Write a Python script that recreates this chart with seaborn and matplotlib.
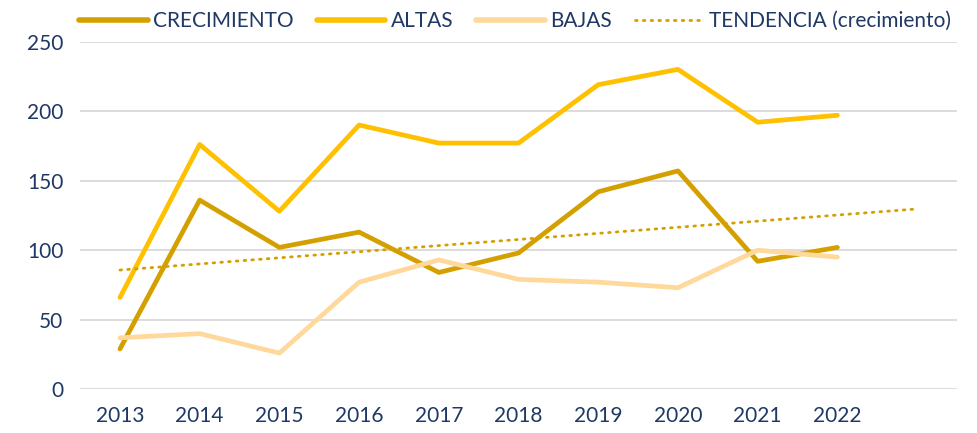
import numpy as np
import pandas as pd
import matplotlib
matplotlib.use("Agg")
import matplotlib.pyplot as plt
import seaborn as sns
from matplotlib.lines import Line2D

years = [2013, 2014, 2015, 2016, 2017, 2018, 2019, 2020, 2021, 2022]
crecimiento = [29, 136, 102, 113, 84, 98, 142, 157, 92, 102]
altas = [66, 176, 128, 190, 177, 177, 219, 230, 192, 197]
bajas = [37, 40, 26, 77, 93, 79, 77, 73, 100, 95]
tick_labels = ["2013", "2014", "2015", "2016", "2017", "2018", "2019", "2020", "2021", "2022", ""]
series_names = ["CRECIMIENTO", "ALTAS", "BAJAS"]
trend_name = "TENDENCIA (crecimiento)"
forecast_periods = 1

sns.set_theme(style="white")
plt.rcParams["font.family"] = ["Lato", "DejaVu Sans"]

text_color = "#1F3864"
colors = {"CRECIMIENTO": "#D4A000", "ALTAS": "#FFC000", "BAJAS": "#FFD89B"}

df = pd.DataFrame({
    "year": years * 3,
    "value": crecimiento + altas + bajas,
    "serie": [series_names[0]] * len(years) + [series_names[1]] * len(years) + [series_names[2]] * len(years),
})

# linear trend of crecimiento, extended by forecast period
coef = np.polyfit(years, crecimiento, 1)
trend_years = np.arange(years[0], years[-1] + forecast_periods + 1)
trend_df = pd.DataFrame({"year": trend_years, "value": np.polyval(coef, trend_years)})

fig = plt.figure(figsize=(9.77, 4.33), dpi=100)
ax = fig.add_axes([0.082, 0.101, 0.8975, 0.803])

ax.yaxis.grid(True, color="#D9D9D9", linewidth=1.3)
ax.set_axisbelow(True)

sns.lineplot(data=df, x="year", y="value", hue="serie", hue_order=series_names,
             palette=colors, linewidth=3.4, ax=ax, legend=False)
sns.lineplot(data=trend_df, x="year", y="value", color=colors["CRECIMIENTO"],
             linewidth=2.0, linestyle=(0, (0.6, 2.2)), dash_capstyle="round",
             ax=ax, legend=False)

for ln in ax.get_lines():
    ln.set_solid_capstyle("round")

ax.set_xlim(years[0] - 0.5, years[-1] + forecast_periods + 0.5)
ax.set_ylim(0, 250)
ax.set_yticks(np.arange(0, 251, 50))
ax.set_xticks(list(range(years[0], years[-1] + forecast_periods + 1)))
ax.set_xticklabels(tick_labels)
ax.tick_params(axis="both", length=0, labelsize=15, colors=text_color)
ax.tick_params(axis="x", pad=12)
ax.tick_params(axis="y", pad=12)
ax.set_xlabel("")
ax.set_ylabel("")
for s in ax.spines.values():
    s.set_visible(False)

handles = [
    Line2D([0], [0], color=colors["CRECIMIENTO"], lw=4, solid_capstyle="round"),
    Line2D([0], [0], color=colors["ALTAS"], lw=4, solid_capstyle="round"),
    Line2D([0], [0], color=colors["BAJAS"], lw=4, solid_capstyle="round"),
    Line2D([0], [0], color=colors["CRECIMIENTO"], lw=2, linestyle=(0, (0.6, 2.2)), dash_capstyle="round"),
]
labels = series_names + [trend_name]
leg = fig.legend(handles, labels, loc="center", bbox_to_anchor=(0.527, 0.951), ncol=4,
                 frameon=False, fontsize=15, handlelength=3.3, handletextpad=0.25,
                 columnspacing=1.1, labelcolor=text_color)

fig.savefig("out.png", dpi=100)
